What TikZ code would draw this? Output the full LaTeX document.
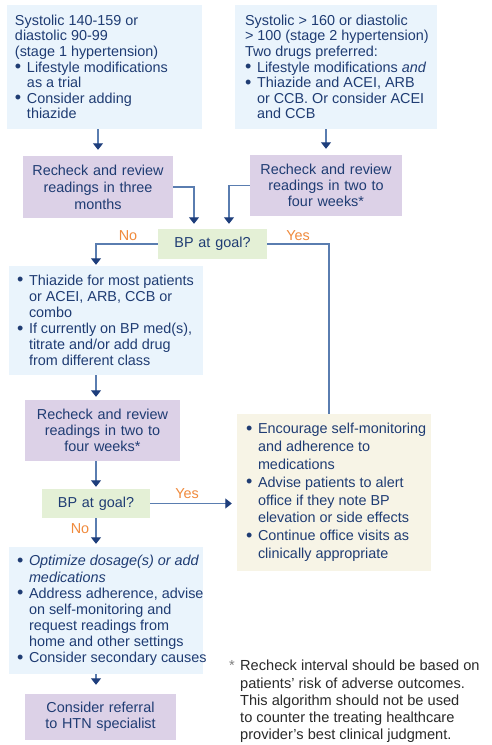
\documentclass[tikz,border=0pt]{standalone}
\usepackage{fontspec}
\setmainfont{Liberation Sans}
\usetikzlibrary{arrows.meta,calc}
\definecolor{txt}{HTML}{1F3C73}
\definecolor{bluebg}{HTML}{EAF4FC}
\definecolor{purbg}{HTML}{DCD1E7}
\definecolor{grnbg}{HTML}{E4F0D6}
\definecolor{yelbg}{HTML}{F7F4E6}
\definecolor{linec}{HTML}{5A7DB0}
\definecolor{arrc}{HTML}{1E3E7C}
\definecolor{orng}{HTML}{F08A3C}
\definecolor{foot}{HTML}{2A2A2A}
\newcommand\tb[2]{\makebox[#1][l]{\parbox{\dimexpr#1+12pt\relax}{\raggedright\hyphenpenalty=10000\relax #2}}}
\newcommand\bitem[1]{\par\hangindent=12pt\hangafter=1\noindent\makebox[12pt][l]{\smash{\raisebox{-0.5pt}{\scalebox{1.25}{\textbullet}}}}#1}
\newcommand\fs[1]{\fontsize{14.4}{#1}\selectfont}
\begin{document}
\begin{tikzpicture}[x=1pt,y=-1pt,
  box/.style={inner xsep=8pt, inner ysep=0pt, text=txt},
  bluebox/.style={box, fill=bluebg},
  purbox/.style={box, fill=purbg, align=center},
  grnbox/.style={box, fill=grnbg, align=center},
  yelbox/.style={box, fill=yelbg},
  ln/.style={draw=linec, line width=1.1pt},
  arr/.style={ln, -{Triangle[width=10pt,length=6.5pt,color=arrc]}},
  lbl/.style={text=orng, font=\fs{16}, inner sep=0pt}]
\fill[white] (0,0) rectangle (492,745);
\useasboundingbox (0,0) rectangle (492,745);

\node[bluebox, minimum width=195pt, minimum height=124pt, font=\fs{15.6}] (B1) at (104.5,67)
 {\tb{179pt}{Systolic 140-159 or\newline diastolic 90-99\newline (stage 1 hypertension)\bitem{Lifestyle modifications\newline as a trial}\bitem{Consider adding\newline thiazide}}};
\node[bluebox, minimum width=202pt, minimum height=124pt, inner xsep=10pt, font=\fs{15.6}] (B2) at (336,67)
 {\tb{182pt}{Systolic > 160 or diastolic\newline > 100 (stage 2 hypertension)\newline Two drugs preferred:\bitem{Lifestyle modifications \emph{and}}\bitem{Thiazide and ACEI, ARB\newline or CCB. Or consider ACEI\newline and CCB}}};

\node[purbox, minimum width=150pt, minimum height=62pt, text width=134pt, font=\fs{17}] (R1) at (98,187)
 {Recheck and review\\ readings in three\\ months};
\node[purbox, minimum width=152pt, minimum height=61pt, text width=136pt, font=\fs{16.3}] (R2) at (326,185.5)
 {Recheck and review\\ readings in two to\\ four weeks*};

\node[grnbox, minimum width=109pt, minimum height=30pt, text width=93pt, font=\fs{16}] (G1) at (212.5,244) {BP at goal?};

\node[bluebox, minimum width=194pt, minimum height=109pt, font=\fs{16.1}] (T) at (106,320.5)
 {\tb{178pt}{\bitem{Thiazide for most patients\newline or ACEI, ARB, CCB or\newline combo}\bitem{If currently on BP med(s),\newline titrate and/or add drug\newline from different class}}};

\node[purbox, minimum width=155pt, minimum height=61pt, text width=139pt, font=\fs{15.8}] (R3) at (102.5,430.5)
 {Recheck and review\\ readings in two to\\ four weeks*};

\node[grnbox, minimum width=108pt, minimum height=29pt, text width=92pt, font=\fs{16}] (G2) at (96,503.5) {BP at goal?};

\node[yelbox, minimum width=194pt, minimum height=157pt, inner xsep=9pt, font=\fs{17.8}] (Y) at (334,492.5)
 {\tb{176pt}{\bitem{Encourage self-monitoring\newline and adherence to\newline medications}\bitem{Advise patients to alert\newline office if they note BP\newline elevation or side effects}\bitem{Continue office visits as\newline clinically appropriate}}};

\node[bluebox, minimum width=194pt, minimum height=127pt, font=\fs{16.1}] (O) at (106,610.5)
 {\tb{178pt}{\bitem{{\itshape Optimize dosage(s) or add\newline medications}}\bitem{Address adherence, advise\newline on self-monitoring and\newline request readings from\newline home and other settings}\bitem{Consider secondary causes}}};

\node[purbox, minimum width=151pt, minimum height=46pt, text width=135pt, font=\fs{15.7}] (Ref) at (100.5,717)
 {Consider referral\\ to HTN specialist};

\node[lbl] (no1) at (128,236) {No};
\node[lbl] (yes1) at (298,236) {Yes};
\node[lbl] (yes2) at (187,494) {Yes};
\node[lbl] (no2) at (80,529) {No};

\node[anchor=north west, inner sep=0pt, text=foot, font=\fontsize{14.6}{17.3}\selectfont] (fn) at (229,660)
 {\tb{258pt}{\hangindent=11pt\hangafter=1\noindent\makebox[11pt][l]{\color{gray}*}Recheck interval should be based on\newline patients’ risk of adverse outcomes.\newline This algorithm should not be used\newline to counter the treating healthcare\newline provider’s best clinical judgment.}};

\draw[arr, shorten >=6pt] (R1.north |- B1.south) -- (R1.north);
\draw[arr, shorten >=6pt] (R2.north |- B2.south) -- (R2.north);
\draw[arr, shorten >=5pt] (R1.east) -| ($(G1.north)+(-18.5,0)$);
\draw[arr, shorten >=5pt] (R2.west) -| ($(G1.north)+(16.5,0)$);
\draw[arr, shorten >=1pt] (G1.west) -| (T.north -| G2.north);
\draw[ln] (G1.east) -| ($(Y.north)+(-5,0)$);
\draw[arr, shorten >=3pt] (T.south -| G2.north) -- (R3.north -| G2.north);
\draw[arr, shorten >=2pt] (R3.south -| G2.north) -- (G2.north);
\draw[arr, shorten >=5pt] (G2.east) -- (G2.east -| Y.west);
\draw[arr, shorten >=3pt] (G2.south) -- (O.north -| G2.south);
\draw[arr, shorten >=9pt] (O.south -| G2.south) -- (Ref.north -| G2.south);
\end{tikzpicture}
\end{document}
